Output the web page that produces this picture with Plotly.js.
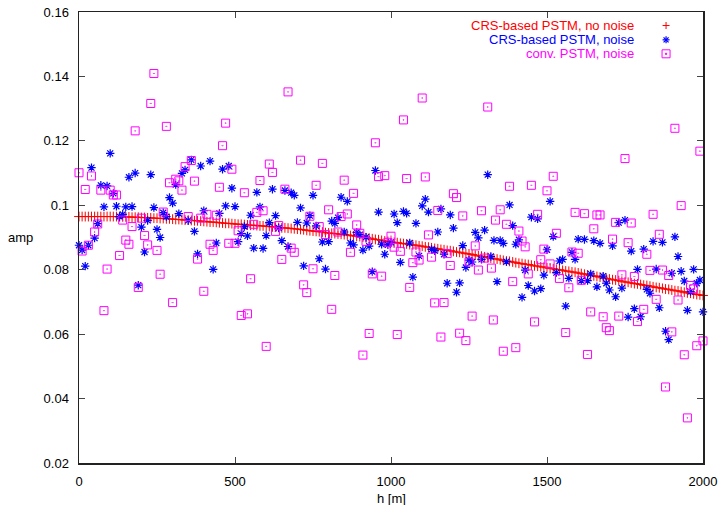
<!DOCTYPE html>
<html>
<head>
<meta charset="utf-8">
<script src="https://cdn.plot.ly/plotly-3.0.1.min.js"></script>
<style>html,body{margin:0;padding:0;background:#fff;}#chart{width:721px;height:505px;}</style>
</head>
<body>
<div id="chart"></div>
<script>
// ---- data ----
const seriesNames = ["CRS-based PSTM, no noise", "CRS-based PSTM, noise", "conv. PSTM, noise"];

const hRed = [0,10,20,30,40,50,60,70,80,90,100,110,120,130,140,150,160,170,180,190,
200,210,220,230,240,250,260,270,280,290,300,310,320,330,340,350,360,370,380,390,
400,410,420,430,440,450,460,470,480,490,500,510,520,530,540,550,560,570,580,590,
600,610,620,630,640,650,660,670,680,690,700,710,720,730,740,750,760,770,780,790,
800,810,820,830,840,850,860,870,880,890,900,910,920,930,940,950,960,970,980,990,
1000,1010,1020,1030,1040,1050,1060,1070,1080,1090,1100,1110,1120,1130,1140,1150,1160,1170,1180,1190,
1200,1210,1220,1230,1240,1250,1260,1270,1280,1290,1300,1310,1320,1330,1340,1350,1360,1370,1380,1390,
1400,1410,1420,1430,1440,1450,1460,1470,1480,1490,1500,1510,1520,1530,1540,1550,1560,1570,1580,1590,
1600,1610,1620,1630,1640,1650,1660,1670,1680,1690,1700,1710,1720,1730,1740,1750,1760,1770,1780,1790,
1800,1810,1820,1830,1840,1850,1860,1870,1880,1890,1900,1910,1920,1930,1940,1950,1960,1970,1980,1990,2000];

const ampRed = [
0.0965,0.0965,0.0965,0.0965,0.0965,0.0965,0.0965,0.0965,0.0965,0.0965,
0.0965,0.0965,0.0965,0.0964,0.0964,0.0964,0.0964,0.0963,0.0963,0.0963,
0.0962,0.0962,0.0961,0.0961,0.0960,0.0960,0.0959,0.0959,0.0958,0.0958,
0.0957,0.0956,0.0956,0.0955,0.0954,0.0954,0.0953,0.0952,0.0952,0.0951,
0.0950,0.0949,0.0948,0.0948,0.0947,0.0946,0.0945,0.0944,0.0944,0.0943,
0.0942,0.0941,0.0941,0.0940,0.0939,0.0938,0.0938,0.0937,0.0936,0.0936,
0.0935,0.0934,0.0933,0.0932,0.0931,0.0930,0.0930,0.0929,0.0928,0.0927,
0.0926,0.0925,0.0924,0.0922,0.0921,0.0920,0.0919,0.0918,0.0917,0.0915,
0.0914,0.0913,0.0912,0.0911,0.0910,0.0909,0.0908,0.0906,0.0905,0.0904,
0.0903,0.0901,0.0899,0.0898,0.0896,0.0894,0.0893,0.0891,0.0889,0.0888,
0.0886,0.0885,0.0884,0.0882,0.0881,0.0880,0.0878,0.0877,0.0876,0.0874,
0.0873,0.0871,0.0870,0.0868,0.0866,0.0865,0.0863,0.0862,0.0860,0.0859,
0.0857,0.0855,0.0854,0.0852,0.0850,0.0849,0.0847,0.0845,0.0843,0.0842,
0.0840,0.0838,0.0836,0.0834,0.0833,0.0831,0.0829,0.0827,0.0826,0.0824,
0.0822,0.0820,0.0819,0.0817,0.0816,0.0814,0.0812,0.0811,0.0809,0.0808,
0.0806,0.0804,0.0803,0.0801,0.0800,0.0798,0.0796,0.0795,0.0793,0.0792,
0.0790,0.0788,0.0786,0.0784,0.0782,0.0781,0.0779,0.0777,0.0775,0.0773,
0.0771,0.0769,0.0768,0.0766,0.0764,0.0762,0.0761,0.0759,0.0757,0.0756,
0.0754,0.0752,0.0751,0.0749,0.0747,0.0745,0.0744,0.0742,0.0740,0.0739,
0.0737,0.0735,0.0734,0.0732,0.0730,0.0728,0.0727,0.0725,0.0723,0.0722,
0.0720];

const hBlue = [
100,40,160,180,230,70,90,110,310,290,300,330,80,120,150,170,240,140,130,270,280,320,60,220,200,250,260,50,30,0,10,210,20,190,
360,420,390,480,460,340,490,570,620,470,500,580,400,450,550,630,350,610,640,530,520,540,600,370,650,440,510,560,590,380,430,
950,660,680,690,750,840,860,710,960,740,830,810,820,700,730,760,850,890,900,920,780,800,870,880,930,970,990,670,910,980,770,720,790,940,
1310,1110,1100,1160,1120,1040,1050,1010,1190,1020,1080,1200,1150,1300,1270,1280,1330,1000,1060,1230,1130,1140,1170,1090,1250,1260,1290,1320,1030,1240,1070,1180,1220,1210,
1380,1510,1450,1470,1390,1520,1350,1360,1400,1410,1600,1620,1650,1500,1550,1540,1580,1590,1370,1430,1530,1490,1570,1610,1640,1630,1660,1340,1440,1480,1460,1420,1560,
1730,1750,1910,1840,1870,1670,1710,1810,1770,1920,1790,1850,1900,1930,1970,1680,1940,1990,1980,1960,1690,1700,1740,1720,1820,1830,1860,1780,1760,1800,1950,2000,1880,1890];

const ampBlue = [
0.1161,0.1117,0.1087,0.1100,0.1095,0.1062,0.1060,0.1037,0.1064,0.1024,0.1007,0.1099,0.0995,0.0997,0.0995,0.0996,0.0993,0.0972,0.0965,0.0977,0.0965,0.0974,0.0943,0.0953,0.0932,0.0925,0.0900,0.0898,0.0876,0.0876,0.0861,0.0855,0.0811,0.0752,
0.1141,0.1137,0.1122,0.1122,0.1112,0.1110,0.1053,0.1040,0.1050,0.0998,0.0996,0.0995,0.0983,0.0975,0.0969,0.0968,0.0953,0.0946,0.0930,0.0934,0.0912,0.0905,0.0906,0.0919,0.0890,0.0883,0.0887,0.0867,0.0866,0.0849,0.0801,
0.1108,0.1046,0.1039,0.1031,0.1031,0.1025,0.1012,0.0992,0.0979,0.0968,0.0962,0.0951,0.0944,0.0947,0.0945,0.0936,0.0917,0.0916,0.0909,0.0901,0.0886,0.0887,0.0883,0.0877,0.0873,0.0879,0.0877,0.0872,0.0861,0.0848,0.0834,0.0812,0.0802,0.0794,
0.1095,0.1019,0.0998,0.0989,0.0979,0.0981,0.0975,0.0973,0.0970,0.0946,0.0944,0.0929,0.0917,0.0923,0.0916,0.0899,0.0891,0.0885,0.0883,0.0875,0.0863,0.0859,0.0848,0.0843,0.0830,0.0824,0.0832,0.0841,0.0823,0.0807,0.0777,0.0758,0.0759,0.0730,
0.1001,0.1012,0.0963,0.0958,0.0937,0.0903,0.0891,0.0882,0.0879,0.0893,0.0895,0.0894,0.0890,0.0862,0.0832,0.0827,0.0854,0.0832,0.0825,0.0799,0.0791,0.0783,0.0773,0.0766,0.0787,0.0766,0.0747,0.0763,0.0751,0.0741,0.0734,0.0714,0.0687,
0.0946,0.0954,0.0902,0.0888,0.0885,0.0882,0.0874,0.0864,0.0858,0.0841,0.0801,0.0802,0.0789,0.0795,0.0801,0.0780,0.0765,0.0768,0.0758,0.0732,0.0758,0.0737,0.0743,0.0716,0.0739,0.0727,0.0682,0.0679,0.0653,0.0654,0.0674,0.0669,0.0609,0.0583];

const hMag = [
240,230,280,180,0,40,20,70,100,110,120,290,310,320,330,270,200,140,170,60,50,210,150,160,220,30,10,250,130,90,260,190,300,80,
470,460,610,620,490,340,360,370,580,450,530,660,570,590,410,440,350,390,560,640,630,510,480,500,420,430,380,650,550,400,520,540,600,
670,950,710,780,960,980,850,760,880,800,860,840,740,890,770,830,900,790,920,1000,990,680,690,870,750,820,940,970,720,730,810,930,910,
1100,1310,1040,1050,1110,1200,1210,1150,1290,1230,1335,1120,1270,1010,1030,1080,1180,1130,1090,1300,1070,1250,1190,1322,1280,1060,1140,1170,1260,1328,1020,1160,1220,1240,
1520,1380,1450,1500,1350,1470,1590,1620,1370,1410,1650,1530,1420,1430,1490,1580,1600,1480,1510,1440,1540,1610,1390,1570,1640,1460,1560,1400,1360,1630,1660,
1910,1990,1750,1930,1840,1670,1720,1770,1860,1710,1760,1820,1830,1870,1890,1740,1780,1960,1970,1850,1920,1810,1680,1730,1790,1690,1700,1900,1980,2000,1940,1880,1950];

const ampMag = [
0.1409,0.1316,0.1245,0.1231,0.1101,0.1091,0.1049,0.1047,0.1047,0.1032,0.1032,0.1070,0.1081,0.1076,0.1047,0.0979,0.0960,0.0954,0.0934,0.0942,0.0917,0.0906,0.0892,0.0879,0.0877,0.0876,0.0858,0.0860,0.0844,0.0802,0.0786,0.0745,0.0698,0.0673,
0.1255,0.1185,0.1128,0.1102,0.1112,0.1120,0.1139,0.1075,0.1077,0.1056,0.1039,0.1050,0.0978,0.0983,0.0972,0.0969,0.0965,0.0960,0.0941,0.0937,0.0919,0.0921,0.0882,0.0882,0.0879,0.0860,0.0833,0.0832,0.0772,0.0733,0.0658,0.0663,0.0562,
0.1352,0.1194,0.1140,0.1130,0.1089,0.1092,0.1078,0.1062,0.1037,0.0986,0.0973,0.0965,0.0966,0.0939,0.0934,0.0917,0.0913,0.0909,0.0888,0.0904,0.0885,0.0867,0.0854,0.0854,0.0803,0.0782,0.0787,0.0780,0.0753,0.0729,0.0677,0.0602,0.0535,
0.1333,0.1305,0.1265,0.1083,0.1088,0.1036,0.1024,0.0984,0.0983,0.0967,0.0954,0.0908,0.0874,0.0870,0.0857,0.0855,0.0850,0.0839,0.0830,0.0836,0.0822,0.0824,0.0813,0.0805,0.0799,0.0745,0.0697,0.0698,0.0656,0.0644,0.0599,0.0591,0.0603,0.0580,
0.1090,0.1059,0.1062,0.1045,0.0986,0.0972,0.0978,0.0974,0.0941,0.0920,0.0927,0.0913,0.0889,0.0871,0.0864,0.0855,0.0851,0.0831,0.0818,0.0787,0.0773,0.0767,0.0763,0.0744,0.0669,0.0638,0.0605,0.0558,0.0547,0.0537,0.0970,
0.1239,0.1168,0.1145,0.0999,0.0972,0.0970,0.0947,0.0945,0.0910,0.0895,0.0884,0.0848,0.0798,0.0799,0.0782,0.0784,0.0779,0.0751,0.0741,0.0708,0.0706,0.0677,0.0654,0.0656,0.0639,0.0620,0.0611,0.0607,0.0564,0.0579,0.0536,0.0436,0.0340];

const xTickVals = [0, 500, 1000, 1500, 2000];
const xTickText = ["0", "500", "1000", "1500", "2000"];
const yTickVals = [0.02, 0.04, 0.06, 0.08, 0.1, 0.12, 0.14, 0.16];
const yTickText = ["0.02", "0.04", "0.06", "0.08", "0.1", "0.12", "0.14", "0.16"];

// ---- styles ----
const RED = "#ff0000", BLUE = "#0000ff", MAG = "#ff00ff";
const FONT = "Liberation Sans, Arial, sans-serif";

const traces = [
  {x: hRed, y: ampRed, type: "scatter", mode: "markers", name: seriesNames[0], cliponaxis: false,
   marker: {symbol: "cross-thin-open", size: 7, color: RED, line: {color: RED, width: 1}}},
  {x: hBlue, y: ampBlue, type: "scatter", mode: "markers", name: seriesNames[1], cliponaxis: false,
   marker: {symbol: "asterisk-open", size: 7, color: BLUE, line: {color: BLUE, width: 1.2}}},
  {x: hMag, y: ampMag, type: "scatter", mode: "markers", name: seriesNames[2], cliponaxis: false,
   marker: {symbol: "square-open-dot", size: 8, color: MAG, line: {color: MAG, width: 1}}}
];

// legend drawn gnuplot-style: text right-aligned, symbol on the right
const legX = 0.8927, symX = 0.9408;
const legY = [0.970, 0.9383, 0.9073];
const legColors = [RED, BLUE, MAG];
const annotations = seriesNames.map((t, i) => ({
  text: t, xref: "paper", yref: "paper", x: legX, y: legY[i], xanchor: "right", yanchor: "middle",
  showarrow: false, font: {family: FONT, size: 13, color: legColors[i]}
}));
annotations.push({text: "amp", xref: "paper", yref: "paper", x: -0.094, y: 0.5, xanchor: "center", yanchor: "middle",
  showarrow: false, font: {family: FONT, size: 13, color: "#000"}});
annotations.push({text: "h [m]", xref: "paper", yref: "paper", x: 0.5, y: -0.078, xanchor: "center", yanchor: "middle",
  showarrow: false, font: {family: FONT, size: 13, color: "#000"}});

function pxLine(cx, cy, x0, y0, x1, y1, col, w) {
  return {type: "line", xref: "paper", yref: "paper", xsizemode: "pixel", ysizemode: "pixel",
    xanchor: cx, yanchor: cy, x0: x0, y0: y0, x1: x1, y1: y1, line: {color: col, width: w}};
}
const shapes = [];
// red +
shapes.push(pxLine(symX, legY[0], -3.5, 0, 3.5, 0, RED, 1));
shapes.push(pxLine(symX, legY[0], 0, -3.5, 0, 3.5, RED, 1));
// blue *
shapes.push(pxLine(symX, legY[1], -3.5, 0, 3.5, 0, BLUE, 1.2));
shapes.push(pxLine(symX, legY[1], 0, -3.5, 0, 3.5, BLUE, 1.2));
shapes.push(pxLine(symX, legY[1], -2.5, -2.5, 2.5, 2.5, BLUE, 1.2));
shapes.push(pxLine(symX, legY[1], -2.5, 2.5, 2.5, -2.5, BLUE, 1.2));
// magenta square with dot
shapes.push({type: "rect", xref: "paper", yref: "paper", xsizemode: "pixel", ysizemode: "pixel",
  xanchor: symX, yanchor: legY[2], x0: -4, y0: -4, x1: 4, y1: 4, line: {color: MAG, width: 1}});
shapes.push({type: "rect", xref: "paper", yref: "paper", xsizemode: "pixel", ysizemode: "pixel",
  xanchor: symX, yanchor: legY[2], x0: -0.6, y0: -0.6, x1: 0.6, y1: 0.6, line: {color: MAG, width: 1}, fillcolor: MAG});

const axisCommon = {
  showgrid: false, zeroline: false, showline: true, mirror: "ticks",
  linecolor: "#222", linewidth: 1.5, ticks: "inside", ticklen: 6, tickwidth: 1, tickcolor: "#444",
  tickfont: {family: FONT, size: 13, color: "#000"}, tickmode: "array"
};

const layout = {
  width: 721, height: 505,
  margin: {l: 79, r: 18, t: 12, b: 42, pad: 0},
  paper_bgcolor: "#fff", plot_bgcolor: "#fff",
  showlegend: false,
  xaxis: Object.assign({}, axisCommon, {range: [0, 2000], tickvals: xTickVals, ticktext: xTickText, ticklabelstandoff: 6}),
  yaxis: Object.assign({}, axisCommon, {range: [0.02, 0.16], tickvals: yTickVals, ticktext: yTickText, ticklabelstandoff: 6}),
  annotations: annotations,
  shapes: shapes
};

Plotly.newPlot("chart", traces, layout, {staticPlot: true, displayModeBar: false});
</script>
</body>
</html>
